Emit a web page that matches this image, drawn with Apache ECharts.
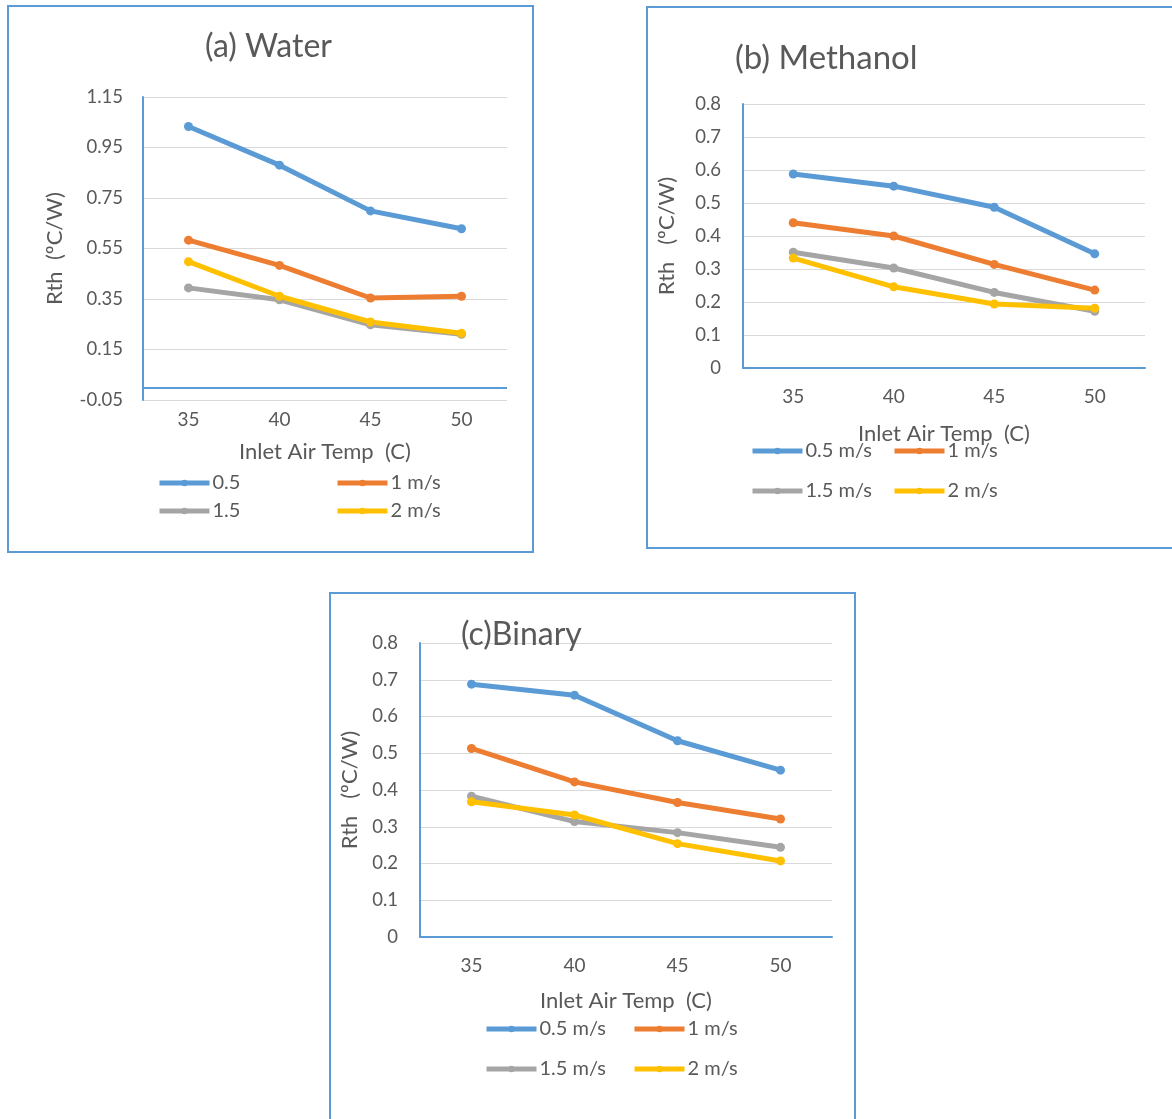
<!DOCTYPE html>
<html><head><meta charset="utf-8">
<script src="https://cdn.jsdelivr.net/npm/echarts@6/dist/echarts.min.js"></script>
<style>html,body{margin:0;padding:0;background:#fff}#c{width:1172px;height:1119px}</style>
</head><body><div id="c"></div>
<script>
// ---- data ----
const categories = ['35', '40', '45', '50'];
const waterNames = ['0.5', '1 m/s', '1.5', '2 m/s'];
const otherNames = ['0.5 m/s', '1 m/s', '1.5 m/s', '2 m/s'];
const water_05 = [1.033, 0.880, 0.699, 0.628];
const water_1  = [0.583, 0.483, 0.354, 0.361];
const water_15 = [0.394, 0.347, 0.248, 0.210];
const water_2  = [0.498, 0.361, 0.259, 0.214];
const methanol_05 = [0.588, 0.551, 0.487, 0.346];
const methanol_1  = [0.440, 0.400, 0.314, 0.236];
const methanol_15 = [0.351, 0.303, 0.229, 0.172];
const methanol_2  = [0.333, 0.246, 0.194, 0.181];
const binary_05 = [0.688, 0.658, 0.534, 0.454];
const binary_1  = [0.513, 0.422, 0.366, 0.321];
const binary_15 = [0.383, 0.314, 0.284, 0.244];
const binary_2  = [0.368, 0.332, 0.254, 0.207];
const waterAxis = { min: -0.05, max: 1.15, interval: 0.2 };
const otherAxis = { min: 0, max: 0.8, interval: 0.1 };

// ---- styles ----
const FONT = 'Lato';
const TXT = '#595959';
const BLUE_AX = '#5B9BD5';
const colors = ['#5B9BD5', '#ED7D31', '#A5A5A5', '#FFC000'];

const panels = [
  { title: '(a) Water', tLeft: 205, tTop: 31, tSize: 32,
    grid: { left: 143, top: 97, width: 364, height: 303 },
    axis: waterAxis, yName: 'Rth  (ºC/W)', yGap: 77, xGap: 41, xMargin: 10, yMargin: 20,
    names: waterNames, data: [water_05, water_1, water_15, water_2],
    legend: [[157, 484], [335, 484], [157, 512], [335, 512]], fmt: v => v.toFixed(2), zeroLine: true },
  { title: '(b) Methanol', tLeft: 735, tTop: 42, tSize: 33,
    grid: { left: 743, top: 104, width: 402, height: 264 },
    axis: otherAxis, yName: 'Rth   (ºC/W)', yGap: 65, xGap: 55, xMargin: 19, yMargin: 22,
    names: otherNames, data: [methanol_05, methanol_1, methanol_15, methanol_2],
    legend: [[750, 452], [892, 452], [750, 492], [892, 492]], fmt: v => String(+v.toFixed(2)) },
  { title: '(c)Binary', tLeft: 461, tTop: 619, tSize: 32,
    grid: { left: 420, top: 643, width: 412, height: 294 },
    axis: otherAxis, yName: 'Rth   (ºC/W)', yGap: 59, xGap: 53, xMargin: 19, yMargin: 22,
    names: otherNames, data: [binary_05, binary_1, binary_15, binary_2],
    legend: [[484, 1030], [632, 1030], [484, 1070], [632, 1070]], fmt: v => String(+v.toFixed(2)) }
];

const option = {
  animation: false,
  textStyle: { fontFamily: FONT },
  title: [], grid: [], xAxis: [], yAxis: [], series: [], legend: [],
  graphic: [
    { type: 'rect', shape: { x: 8, y: 6, width: 525, height: 546 }, style: { fill: null, stroke: BLUE_AX, lineWidth: 2 } },
    { type: 'rect', shape: { x: 647, y: 7, width: 540, height: 541 }, style: { fill: null, stroke: BLUE_AX, lineWidth: 2 } },
    { type: 'rect', shape: { x: 330, y: 593, width: 525, height: 540 }, style: { fill: null, stroke: BLUE_AX, lineWidth: 2 } }
  ]
};

panels.forEach((p, i) => {
  option.title.push({ text: p.title, left: p.tLeft, top: p.tTop, padding: 0,
    textStyle: { fontFamily: FONT, fontSize: p.tSize, fontWeight: 'normal', color: TXT } });
  option.grid.push(Object.assign({ containLabel: false }, p.grid));
  option.xAxis.push({
    type: 'category', gridIndex: i, data: categories, boundaryGap: true,
    name: 'Inlet Air Temp  (C)', nameLocation: 'middle', nameGap: p.xGap,
    nameTextStyle: { fontFamily: FONT, fontSize: 22, color: TXT },
    axisLine: p.zeroLine ? { show: false, onZero: false } : { show: true, onZero: true, lineStyle: { color: BLUE_AX, width: 2 } },
    axisTick: { show: false },
    axisLabel: { margin: p.xMargin, fontFamily: FONT, fontSize: 19, color: TXT },
    splitLine: { show: false }
  });
  option.yAxis.push({
    type: 'value', gridIndex: i, min: p.axis.min, max: p.axis.max, interval: p.axis.interval,
    name: p.yName, nameLocation: 'middle', nameGap: p.yGap,
    nameTextStyle: { fontFamily: FONT, fontSize: 22, color: TXT },
    axisLine: { show: true, lineStyle: { color: BLUE_AX, width: 2 } },
    axisTick: { show: false },
    axisLabel: { margin: p.yMargin, fontFamily: FONT, fontSize: 18.5, color: TXT, formatter: p.fmt },
    splitLine: { show: true, lineStyle: { color: '#D9D9D9', width: 1 } }
  });
  p.data.forEach((d, k) => {
    const s = {
      type: 'line', name: p.names[k], xAxisIndex: i, yAxisIndex: i, data: d,
      symbol: 'circle', symbolSize: 9, showSymbol: true,
      lineStyle: { color: colors[k], width: 5 }, itemStyle: { color: colors[k] },
      z: 3
    };
    if (p.zeroLine && k === 0) {
      s.markLine = { silent: true, symbol: ['none', 'none'], label: { show: false },
        lineStyle: { color: BLUE_AX, width: 2, type: 'solid' }, data: [{ yAxis: 0 }], z: 1 };
    }
    option.series.push(s);
    option.legend.push({
      data: [p.names[k]], left: p.legend[k][0], top: p.legend[k][1] - 11, padding: 0,
      itemWidth: 50, itemHeight: 8, itemGap: 3,
      lineStyle: { width: 5 },
      textStyle: { fontFamily: FONT, fontSize: 20, color: TXT, padding: [0, 0, 0, -2] },
      selectedMode: false
    });
  });
});

const chart = echarts.init(document.getElementById('c'));
chart.setOption(option);
</script>
</body></html>
